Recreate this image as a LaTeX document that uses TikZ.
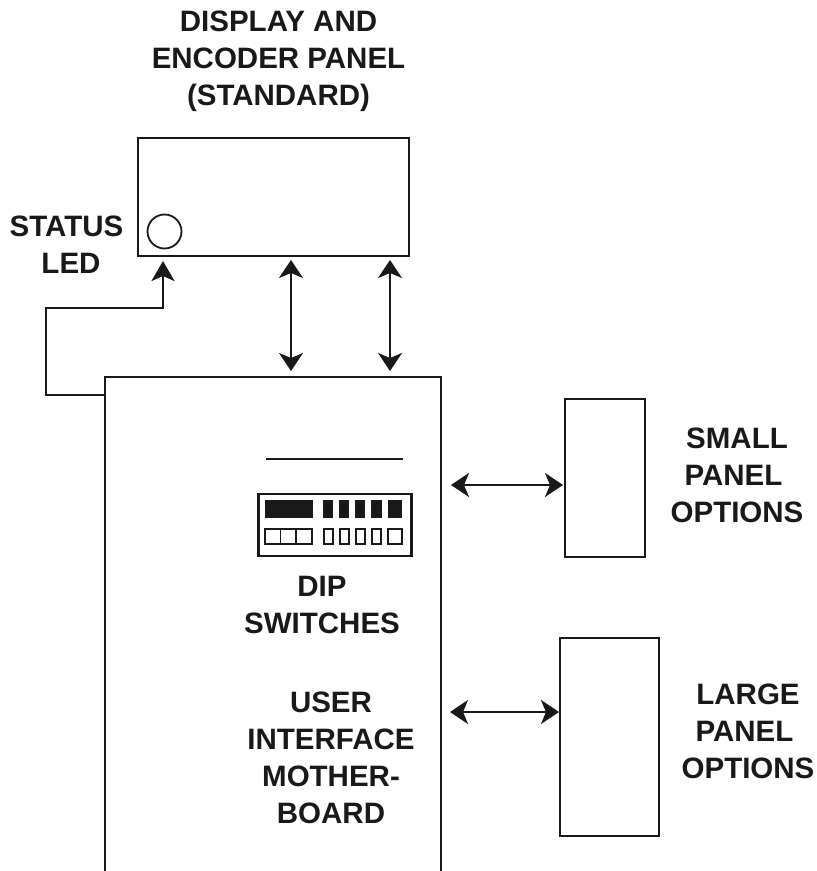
\documentclass[tikz,border=0pt]{standalone}
\usepackage{fontspec}
\setmainfont{Liberation Sans}
\usetikzlibrary{positioning, arrows.meta, calc}
\begin{document}
\begin{tikzpicture}[x=1pt, y=-1pt, every node/.style={font=\fontsize{29.5}{37}\selectfont\bfseries, inner sep=0pt, outer sep=0pt}]
  \tikzset{
    box/.style={draw=black!90, line width=2.5pt},
    lbl/.style={align=center, text=black!90},
    wire/.style={draw=black!90, line width=2.5pt},
    dbl/.style={wire, {Stealth[length=18pt,width=24pt,inset=5pt]}-{Stealth[length=18pt,width=24pt,inset=5pt]}},
    sgl/.style={wire, -{Stealth[length=20pt,width=23pt,inset=5pt]}},
    solid block/.style={fill=black!90},
    cell/.style={draw=black!90, line width=1.8pt},
  }
  \useasboundingbox (0,0) rectangle (817,871);
  %% Boxes
  \node[box, minimum width=271pt, minimum height=118pt] (display) at (273.5,197) {};
  \node[minimum width=336pt, minimum height=494pt] (mother) at (273,624) {};
  \draw[box] (mother.south west) -- (mother.north west) -- (mother.north east) -- (mother.south east);
  \node[box, minimum width=80pt, minimum height=158pt] (small) at (605,478) {};
  \node[box, minimum width=99pt, minimum height=198pt] (large) at (609.5,737) {};
  \node[draw=black!90, line width=1.8pt, circle, minimum size=34pt] (led) at (164.5,231.5) {};
  %% Labels
  \node[lbl] (displaytxt) at (278.5,61.5) {DISPLAY AND\\ENCODER PANEL\\(STANDARD)};
  \node[lbl] (statustxt) at (66.5,245) {STATUS\\\hspace*{9pt}LED};
  \node[lbl] (smalltxt) at (737,475) {SMALL\\PANEL\kern7pt\\OPTIONS};
  \node[lbl] (largetxt) at (748,731.5) {LARGE\\PANEL\kern7pt\\OPTIONS};
  \node[lbl] (diptxt) at (322,605) {DIP\\SWITCHES};
  \node[lbl] (mothertxt) at (331,757.5) {USER\\INTERFACE\\MOTHER-\\BOARD};
  %% DIP switch block
  \draw[wire] (266,459) -- (403,459);
  \node[box, minimum width=153pt, minimum height=62pt] (dip) at (335,525) {};
  \fill[solid block] (265,500) rectangle (313,518);
  \foreach \xa/\xb in {323/333, 339/349, 355/365, 371/382, 388/402}
    \fill[solid block] (\xa,500) rectangle (\xb,518);
  \foreach \xa/\xb in {265/280.5, 280.5/296, 296/312, 324/333, 340/349, 356/365, 372/381, 388/402}
    \draw[cell] (\xa,529) rectangle (\xb,544);
  %% Connectors
  \coordinate (ledin) at (163,256);
  \coordinate (mothertap) at (105,395);
  \draw[sgl, shorten >=5pt] (mothertap) -- (46,395) -- (46,308) -- (163,308) -- (ledin);
  \draw[dbl, shorten <=4pt, shorten >=6pt] (291,256) coordinate (da) -- (291,377) coordinate (ma);
  \draw[dbl, shorten <=4pt, shorten >=6pt] (390,256) coordinate (db) -- (390,377) coordinate (mb);
  \draw[dbl, shorten <=10pt, shorten >=2pt] (mother.east |- 0,485) coordinate (mc) -- (small.west |- mc);
  \draw[dbl, shorten <=9pt, shorten >=1pt] (mother.east |- 0,712) coordinate (md) -- (large.west |- md);
\end{tikzpicture}
\end{document}
